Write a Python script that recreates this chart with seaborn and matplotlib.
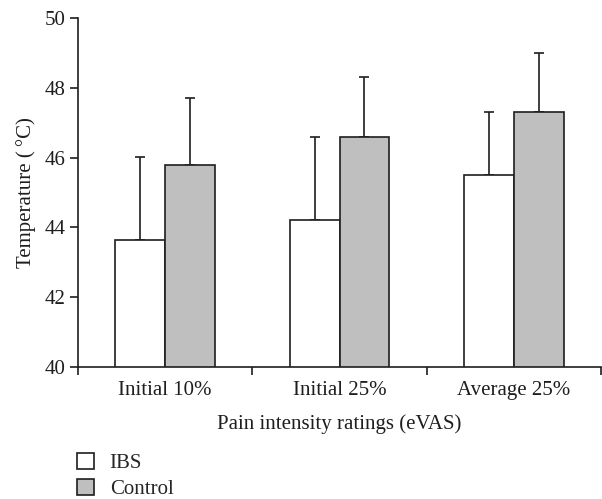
import numpy as np
import pandas as pd
import matplotlib
matplotlib.use("Agg")
import matplotlib.pyplot as plt
import seaborn as sns

# ─── DATA ────────────────────────────────────────────────────────────────────
categories = ["Initial 10%", "Initial 25%", "Average 25%"]
groups = ["IBS", "Control"]
ibs_mean = [43.65, 44.2, 45.5]
ibs_err = [2.37, 2.4, 1.8]
ctrl_mean = [45.8, 46.6, 47.3]
ctrl_err = [1.9, 1.7, 1.7]

df = pd.DataFrame({
    "rating": categories * 2,
    "group": ["IBS"] * 3 + ["Control"] * 3,
    "temp": ibs_mean + ctrl_mean,
    "err": ibs_err + ctrl_err,
})

# ─── STYLE ───────────────────────────────────────────────────────────────────
sns.set_style("ticks")
plt.rcParams["font.family"] = ["Liberation Serif", "DejaVu Serif"]
INK = "#1e1e1e"
GREY = "#bfbfbf"
FS = 15

fig = plt.figure(figsize=(6.02, 4.99), dpi=100)
ax = fig.add_axes([78 / 602, 1 - 367 / 499, (601 - 78) / 602, (367 - 18) / 499])

sns.barplot(data=df, x="rating", y="temp", hue="group", hue_order=groups,
            palette={"IBS": "white", "Control": GREY}, width=0.573,
            edgecolor=INK, linewidth=1.2, errorbar=None, ax=ax, legend=True)

# one-sided (upward) error bars, placed from the drawn bars
for cont, g in zip(ax.containers, groups):
    sub = df[df["group"] == g].set_index("rating").loc[categories]
    xs = [p.get_x() + p.get_width() / 2 for p in cont.patches]
    hs = [p.get_height() for p in cont.patches]
    ax.errorbar(xs, hs, yerr=[np.zeros(len(xs)), sub["err"].values],
                fmt="none", ecolor=INK, elinewidth=1.2, capsize=3.6,
                capthick=1.2, zorder=0)

ax.set_ylim(40, 50)
ax.set_yticks(np.arange(40, 51, 2))
ax.set_xlim(-0.5, 2.5)
ax.tick_params(axis="x", length=0, labelsize=FS, pad=10, colors=INK)
ax.tick_params(axis="y", length=6, width=1.2, labelsize=FS, pad=3, colors=INK)
ax.set_xticks([-0.5, 0.5, 1.5, 2.5], minor=True)
ax.tick_params(axis="x", which="minor", length=6, width=1.2, direction="out",
               colors=INK)
for s in ["left", "bottom"]:
    ax.spines[s].set_linewidth(1.2)
    ax.spines[s].set_color(INK)
sns.despine(ax=ax)

ax.set_xlabel("Pain intensity ratings (eVAS)", fontsize=FS, color=INK,
              labelpad=10)
ax.set_ylabel("Temperature (\u2009°C)", fontsize=FS, color=INK, labelpad=6)

handles, labels = ax.get_legend_handles_labels()
ax.get_legend().remove()
fig.legend(handles, labels, loc="upper left",
           bbox_to_anchor=(77 / 602, 1 - 453 / 499), frameon=False,
           fontsize=FS, handlelength=0.82, handleheight=0.82,
           handletextpad=0.75, labelspacing=0.25, borderaxespad=0,
           borderpad=0)

fig.savefig("out.png", dpi=100)
